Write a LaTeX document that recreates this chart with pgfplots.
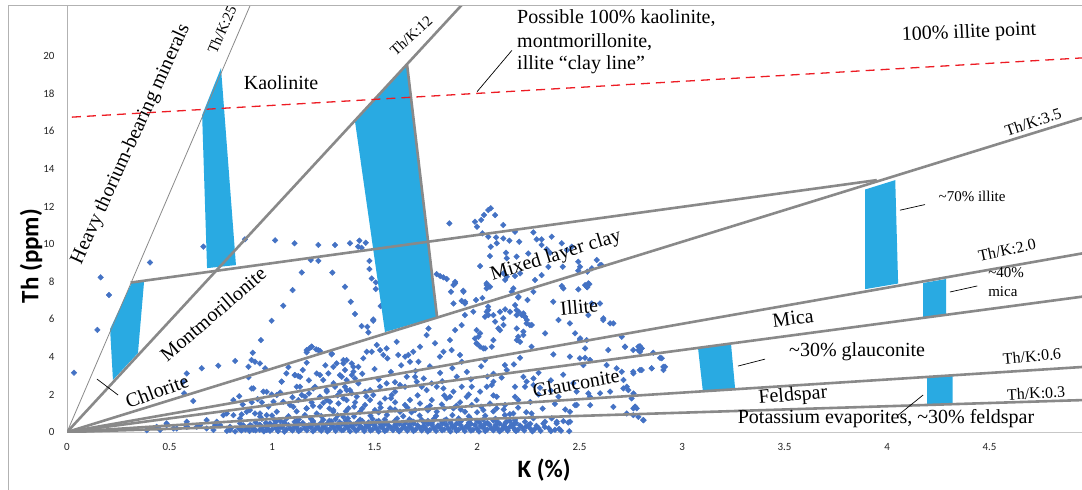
\documentclass[border=0pt]{standalone}
\usepackage{fontspec}
\setmainfont{Liberation Serif}
\newfontfamily\calib{Carlito}
\usepackage{pgfplots}
\pgfplotsset{compat=1.18}

\definecolor{ptblue}{RGB}{68,114,196}
\definecolor{zone}{RGB}{41,170,226}
\definecolor{fan}{RGB}{137,137,137}
\definecolor{clayred}{RGB}{237,28,36}

\newcommand\lab[1]{\fontsize{#1bp}{#1bp}\selectfont}

\begin{document}
\begin{tikzpicture}
\begin{axis}[
  width=1015bp, height=427bp, scale only axis,
  xmin=0, xmax=4.951, ymin=0, ymax=22.71,
  axis x line*=bottom, axis y line*=left,
  x axis line style={draw=black!22, line width=0.9bp, -},
  y axis line style={draw=black!30, line width=0.9bp, -},
  xtick={0,0.5,1,1.5,2,2.5,3,3.5,4,4.5},
  ytick={0,2,4,6,8,10,12,14,16,18,20},
  major tick length=0,
  tick label style={font=\calib\lab{11}, text=black!85},
  xticklabel style={yshift=-8bp},
  yticklabel style={xshift=-9bp},
  /pgf/number format/assume math mode=true,
  clip mode=individual,
]

% measured samples: K (%) vs Th (ppm)
\addplot[only marks, mark=square*, mark size=2.0bp,
  mark options={rotate=45, fill=ptblue, draw=ptblue}] coordinates {
(0.034,3.16)(0.148,5.43)(0.164,8.23)(0.205,7.29)(0.405,9.02)(0.665,9.86)(0.868,10.25)(1.015,10.20)
(1.110,10.04)(1.226,9.95)(1.307,9.95)(1.380,10.04)(1.420,9.86)(1.145,8.49)(1.294,8.48)(1.100,7.55)
(1.356,7.73)(1.055,6.72)(0.998,5.92)(1.384,6.93)(1.405,6.28)(0.946,4.89)
(1.426,10.18)(1.457,10.07)(1.437,9.80)(1.189,9.15)(1.226,9.11)(1.475,9.10)(1.475,8.67)(1.486,8.17)
(1.506,7.96)(1.506,7.61)(1.530,6.70)(1.494,5.99)
(1.865,11.10)(1.990,11.19)(2.000,10.92)(2.020,11.28)(2.034,11.54)(2.055,11.81)(2.067,11.90)(2.088,11.54)
(2.026,10.57)(2.055,10.39)(2.093,10.35)(2.067,9.86)(2.015,8.83)(2.063,9.36)(1.803,8.40)(1.820,8.30)
(1.836,8.23)(1.852,8.14)(1.893,7.99)(1.885,7.82)(1.873,7.46)(1.933,7.52)(1.885,6.84)(1.925,6.98)
(1.941,6.84)(1.995,7.02)(2.026,7.13)(2.047,7.82)(2.063,7.73)(2.047,7.64)(2.054,6.67)(2.055,6.49)
(2.080,6.22)(2.055,6.22)(1.982,6.40)(1.941,6.22)(2.096,10.04)
(2.128,11.01)(2.185,10.65)(2.275,10.62)(2.128,10.30)(2.158,10.18)(2.206,10.12)(2.291,10.25)(2.315,10.25)
(2.364,10.39)(2.413,10.04)(2.315,9.95)(2.340,9.72)(2.356,9.54)(2.438,9.68)(2.462,9.86)(2.141,9.54)
(2.145,9.24)(2.193,9.33)(2.250,9.50)(2.128,8.44)(2.145,8.26)(2.137,8.09)(2.185,8.30)(2.210,8.44)
(2.283,8.09)(2.315,8.35)(2.348,8.79)(2.418,8.79)(2.494,9.06)(2.502,8.79)(2.494,8.58)(2.538,8.53)
(2.560,8.71)(2.584,9.15)(2.600,8.88)(2.177,7.64)(2.169,7.46)(2.201,7.16)(2.246,7.02)(2.275,7.46)
(2.413,7.77)(2.421,7.64)(2.494,7.59)(2.527,7.82)(2.538,7.70)(2.548,7.87)(2.372,6.93)(2.137,6.53)
(2.161,6.40)(2.193,6.49)(2.193,6.22)(2.234,6.13)(2.226,6.31)(2.560,6.84)(2.600,6.84)(2.616,6.05)
(2.543,6.22)
(2.608,8.88)(2.543,7.91)(2.535,7.73)(2.665,5.78)(2.706,5.07)(2.503,4.98)(2.722,4.54)(2.795,4.57)
(2.803,4.45)(2.787,4.36)(2.860,4.22)(2.901,3.92)(2.917,3.47)(2.852,3.39)(2.803,3.30)(2.763,3.12)
(2.714,2.32)(2.763,2.05)(2.771,1.34)(2.763,1.26)(2.787,0.81)(2.812,0.63)(2.665,1.34)(2.730,0.99)
(2.552,1.43)(2.478,1.43)(2.454,0.55)(2.389,0.55)(2.324,0.46)
(1.893,7.91)(1.934,7.46)(1.942,6.93)(2.047,7.91)(2.047,6.40)(2.039,6.13)(2.007,5.07)(1.999,4.71)
(2.039,4.45)(2.080,4.89)(2.112,6.40)(2.129,5.69)(2.112,5.42)(2.202,7.20)(2.186,6.75)(2.202,6.40)
(2.218,6.22)(2.243,5.96)(2.267,5.69)(2.194,5.51)(2.194,4.89)(2.226,5.16)
(2.128,6.05)(2.234,6.13)(2.242,5.78)(2.258,5.69)(2.226,5.34)(2.201,5.07)(2.210,4.80)(2.266,4.54)
(2.332,5.25)(2.397,5.96)(2.453,5.78)(2.478,5.25)(2.502,4.89)(2.535,4.89)(2.527,4.45)(2.616,5.96)
(2.649,5.78)(2.640,4.36)(2.722,4.54)(2.762,4.36)(2.787,4.54)(2.803,4.45)(2.795,4.27)(2.372,4.13)
(2.453,4.01)(2.502,3.92)(2.527,3.95)(2.551,3.83)(2.519,3.56)(2.632,3.56)(2.681,3.39)(2.706,3.21)
(2.762,3.21)(2.795,3.30)(2.852,3.39)(2.893,3.95)(2.909,3.47)(2.909,3.30)(2.210,3.95)(2.136,3.56)
(2.145,3.30)(2.226,2.94)(2.242,2.68)(2.275,2.85)(2.185,2.41)(2.234,2.41)(2.275,2.50)(2.307,2.36)
(2.397,1.88)(2.486,2.15)(2.543,2.06)(2.551,1.88)(2.600,2.06)(2.649,2.15)(2.714,2.77)(2.730,2.41)
(2.738,2.23)(2.754,1.79)(2.771,1.35)(2.779,1.26)(2.762,0.90)(2.811,0.64)(2.486,1.44)(2.453,1.08)
(2.136,1.44)(2.185,1.88)(2.201,1.70)(2.177,0.99)(2.136,0.90)(2.145,0.55)(2.185,0.64)(2.234,0.55)
(2.266,0.99)(2.275,0.73)(2.332,0.55)(2.364,0.73)(2.388,0.46)(2.421,0.58)(2.445,0.51)(2.185,0.11)
(2.128,0.19)
(1.494,5.92)(1.437,5.64)(1.465,5.60)(1.470,5.30)(1.182,4.45)(1.194,4.54)(1.215,4.40)(1.234,4.31)
(1.169,4.24)(1.291,4.13)(1.169,3.69)(1.234,3.03)(1.112,3.03)(1.128,2.98)(1.218,3.12)
(1.348,3.65)(1.364,3.83)(1.389,3.65)(1.315,3.65)(1.356,3.30)(1.340,2.94)(1.389,3.03)(1.397,3.21)
(1.421,3.47)(1.445,3.92)(1.462,4.27)(1.486,4.27)(1.511,4.63)(1.527,4.36)(1.543,4.10)(1.559,4.45)
(1.563,3.92)(1.608,4.80)(1.616,4.10)(1.649,4.01)(1.665,4.10)(1.673,3.74)(1.689,4.27)(1.714,3.74)
(1.722,4.54)(1.754,5.16)(1.763,5.51)(1.795,4.72)(1.819,4.01)(1.836,4.27)(1.868,4.89)(1.876,4.36)
(1.917,4.10)(1.925,3.74)(1.893,5.42)(1.925,5.69)(1.998,5.42)(2.015,5.25)(1.990,4.98)(1.998,4.72)
(2.015,4.54)(2.031,4.45)(2.039,3.83)(2.072,4.54)(2.088,5.87)(2.104,5.51)
(1.047,2.68)(1.120,2.41)(1.145,1.97)(1.161,1.88)(1.210,2.41)(1.250,2.77)(1.267,2.15)(1.307,2.41)
(1.332,2.15)(1.356,2.41)(1.364,2.23)(1.389,2.06)(1.421,2.59)(1.454,2.15)(1.478,2.23)(1.494,1.97)
(1.527,2.41)(1.559,2.59)(1.584,1.97)(1.600,2.15)(1.624,2.50)(1.649,2.41)(1.657,2.94)(1.698,2.94)
(1.706,2.68)(1.730,2.41)(1.754,2.23)(1.779,2.59)(1.803,2.41)(1.836,2.32)(1.868,1.88)(1.885,2.15)
(1.901,2.94)(1.925,2.41)(1.950,1.88)(1.974,2.41)(2.015,2.15)(2.047,2.41)(2.080,2.68)(2.072,2.50)
(2.096,1.88)
(1.055,1.61)(1.088,1.44)(1.128,1.70)(1.169,1.26)(1.193,1.58)(1.234,1.35)(1.267,1.70)(1.299,1.17)
(1.324,1.52)(1.348,1.79)(1.372,1.26)(1.405,1.58)(1.429,1.08)(1.454,1.44)(1.478,1.70)(1.502,1.17)
(1.527,1.52)(1.551,1.79)(1.576,1.26)(1.600,1.58)(1.624,1.08)(1.649,1.44)(1.673,1.70)(1.698,1.17)
(1.722,1.52)(1.754,1.26)(1.779,1.70)(1.803,1.08)(1.828,1.47)(1.852,1.79)(1.885,1.26)(1.917,1.58)
(1.941,1.08)(1.974,1.44)(1.998,1.70)(2.031,1.17)(2.063,1.52)(2.096,1.26)
(0.901,2.32)(0.958,2.15)(0.999,2.00)(0.857,1.47)(0.901,1.58)(0.950,1.58)(0.982,1.35)(1.007,1.61)
(0.763,0.90)(0.812,0.90)(0.852,0.94)(0.877,1.08)(0.917,0.99)(0.942,0.82)(0.974,0.90)(1.023,1.08)
(0.486,0.46)(0.454,0.11)(0.535,0.19)(0.584,0.28)(0.633,0.28)(0.681,0.19)(0.714,0.11)(0.747,0.37)
(0.795,0.28)(0.844,0.46)(0.893,0.37)(0.942,0.37)(0.990,0.46)(1.031,0.28)(0.909,0.11)(0.974,0.11)
(0.852,0.11)(0.795,0.11)(0.722,0.37)
(0.906,4.22)(0.900,3.83)(0.820,3.78)(0.885,3.47)(0.917,3.74)(0.941,3.65)(0.738,3.53)(0.657,3.39)
(0.567,2.68)(0.571,2.06)(0.616,1.65)(0.584,3.12)(0.885,2.91)(0.909,2.32)(0.974,2.14)(1.023,1.97)
(1.070,3.12)(1.110,3.03)(1.137,2.94)(0.966,3.39)(1.047,2.68)
(1.193,4.54)(1.169,4.36)(1.226,4.36)(1.291,4.18)(1.299,3.47)(1.348,3.83)(1.397,3.47)(1.275,3.12)
(1.331,3.03)(1.364,2.76)(1.405,2.85)(1.136,2.41)(1.201,2.32)(1.266,2.23)(1.380,2.23)(1.234,1.88)
(1.283,1.61)(1.364,1.70)(1.413,1.88)(1.104,1.34)(1.169,1.26)(1.218,0.99)(1.299,1.08)(1.348,0.81)
(0.892,1.17)(0.941,0.99)(0.844,0.72)(0.779,0.99)(0.730,0.55)(0.649,0.37)(0.584,0.28)(0.486,0.37)
(0.437,0.28)(0.389,0.10)(0.519,0.19)(0.584,0.55)(0.681,0.63)(0.811,1.70)
(1.08,3.45)(1.15,3.30)(1.26,3.55)(1.44,3.10)(1.50,3.35)(1.58,3.20)(1.63,3.55)(1.70,3.25)
(1.77,3.50)(1.82,3.15)(1.88,3.40)(1.95,3.20)(2.02,3.50)(2.08,3.10)(2.12,2.90)(2.18,3.60)
(2.30,3.15)(2.36,2.75)(2.42,3.05)(2.47,2.60)(1.52,2.80)(1.60,2.65)(1.74,2.85)(1.83,2.70)
(1.97,2.80)(2.05,2.95)(1.30,2.60)(1.18,2.75)
(0.84,1.90)(0.93,1.75)(1.04,2.10)(1.10,1.85)(1.18,2.05)(1.25,1.55)(1.32,1.95)(1.40,1.35)
(1.46,1.90)(1.53,1.30)(1.58,1.80)(1.66,1.30)(1.71,1.95)(1.77,1.40)(1.84,1.95)(1.90,1.40)
(1.96,2.00)(2.02,1.35)(2.08,1.95)(2.13,1.20)(2.20,1.30)(2.26,1.60)(2.32,1.25)(2.38,1.50)
(2.43,1.20)(2.30,2.00)(2.36,2.20)(1.12,1.10)(1.20,1.40)(1.28,1.25)(1.36,1.10)(1.44,1.25)
(1.52,1.05)(1.60,1.20)(1.68,1.05)(1.76,1.15)(1.84,1.25)(1.92,1.20)(2.00,1.05)(2.08,1.10)
(2.16,0.95)(2.24,1.05)
(0.78,0.06)(0.82,0.03)(0.85,0.08)(0.89,0.05)(0.92,0.09)(0.96,0.04)(0.99,0.07)(1.03,0.05)
(1.06,0.02)(1.10,0.08)(1.13,0.05)(1.17,0.09)(1.20,0.04)(1.24,0.07)(1.27,0.03)(1.31,0.06)
(1.34,0.09)(1.38,0.04)(1.41,0.07)(1.45,0.05)(1.48,0.08)(1.52,0.03)(1.55,0.06)(1.59,0.09)
(1.62,0.04)(1.66,0.07)(1.69,0.05)(1.73,0.08)(1.76,0.03)(1.80,0.06)(1.83,0.09)(1.87,0.04)
(1.90,0.07)(1.94,0.05)(1.97,0.08)(2.01,0.03)(2.04,0.06)(2.08,0.09)(2.11,0.04)(2.15,0.07)
(2.19,0.05)(2.23,0.08)(2.27,0.04)(2.31,0.06)(2.36,0.05)(2.41,0.07)(2.45,0.04)
(0.87,0.13)(0.94,0.12)(1.00,0.14)(1.07,0.13)(1.14,0.12)(1.21,0.14)(1.28,0.13)(1.35,0.12)
(1.42,0.14)(1.49,0.13)(1.56,0.12)(1.63,0.14)(1.70,0.13)(1.77,0.12)(1.84,0.14)(1.91,0.13)
(1.98,0.12)(2.05,0.14)(2.12,0.13)(2.20,0.12)(2.28,0.14)(2.38,0.12)
(0.80,0.22)(0.84,0.18)(0.88,0.24)(0.91,0.19)(0.95,0.23)(0.98,0.17)(1.02,0.21)(1.05,0.25)
(1.09,0.18)(1.12,0.22)(1.16,0.20)(1.19,0.26)(1.23,0.17)(1.26,0.21)(1.30,0.24)(1.33,0.19)
(1.37,0.23)(1.40,0.18)(1.44,0.22)(1.47,0.26)(1.51,0.19)(1.54,0.21)(1.58,0.24)(1.61,0.18)
(1.65,0.22)(1.68,0.20)(1.72,0.25)(1.75,0.17)(1.79,0.21)(1.82,0.23)(1.86,0.19)(1.89,0.24)
(1.93,0.20)(1.96,0.22)(2.00,0.18)(2.03,0.25)(2.07,0.21)(2.10,0.19)(2.14,0.23)(2.18,0.20)
(2.22,0.24)(2.26,0.18)(2.30,0.22)(2.35,0.20)(2.40,0.17)
(0.90,0.28)(0.97,0.29)(1.04,0.27)(1.11,0.28)(1.18,0.29)(1.25,0.27)(1.32,0.28)(1.39,0.29)
(1.46,0.27)(1.53,0.28)(1.60,0.29)(1.67,0.27)(1.74,0.28)(1.81,0.29)(1.88,0.27)(1.95,0.28)
(2.02,0.29)(2.09,0.27)(2.16,0.28)(2.24,0.29)(2.33,0.27)
(0.86,0.36)(0.90,0.33)(0.94,0.39)(0.97,0.35)(1.01,0.38)(1.04,0.32)(1.08,0.37)(1.11,0.34)
(1.15,0.40)(1.18,0.36)(1.22,0.33)(1.25,0.38)(1.29,0.35)(1.32,0.39)(1.36,0.34)(1.39,0.37)
(1.43,0.32)(1.46,0.38)(1.50,0.35)(1.53,0.40)(1.57,0.33)(1.60,0.37)(1.64,0.34)(1.67,0.39)
(1.71,0.36)(1.74,0.33)(1.78,0.38)(1.81,0.35)(1.85,0.39)(1.88,0.34)(1.92,0.37)(1.95,0.33)
(1.99,0.38)(2.02,0.35)(2.06,0.40)(2.09,0.36)(2.13,0.33)(2.17,0.38)(2.21,0.35)(2.25,0.37)
(2.29,0.33)
(0.99,0.44)(1.06,0.45)(1.13,0.43)(1.20,0.44)(1.27,0.45)(1.34,0.43)(1.41,0.44)(1.48,0.45)
(1.55,0.43)(1.62,0.44)(1.69,0.45)(1.76,0.43)(1.83,0.44)(1.90,0.45)(1.97,0.43)(2.04,0.44)
(2.11,0.45)(2.18,0.43)(2.26,0.44)
(0.92,0.52)(0.97,0.49)(1.02,0.55)(1.06,0.51)(1.11,0.54)(1.15,0.48)(1.20,0.53)(1.24,0.50)
(1.29,0.56)(1.33,0.52)(1.38,0.49)(1.42,0.54)(1.47,0.51)(1.51,0.55)(1.56,0.48)(1.60,0.53)
(1.65,0.50)(1.69,0.55)(1.74,0.52)(1.78,0.49)(1.83,0.54)(1.87,0.51)(1.92,0.56)(1.96,0.50)
(2.01,0.53)(2.05,0.49)(2.10,0.54)(2.14,0.51)(2.19,0.48)
(1.04,0.60)(1.12,0.61)(1.20,0.59)(1.28,0.60)(1.36,0.61)(1.44,0.59)(1.52,0.60)(1.60,0.61)
(1.68,0.59)(1.76,0.60)(1.84,0.61)(1.92,0.59)(2.00,0.60)(2.08,0.61)(2.16,0.59)
(0.95,0.70)(1.01,0.66)(1.07,0.72)(1.13,0.67)(1.19,0.71)(1.25,0.65)(1.31,0.69)(1.37,0.73)
(1.43,0.66)(1.49,0.70)(1.55,0.67)(1.61,0.72)(1.67,0.68)(1.73,0.65)(1.79,0.71)(1.85,0.67)
(1.91,0.73)(1.97,0.69)(2.03,0.66)(2.09,0.71)
(1.00,0.88)(1.08,0.84)(1.16,0.90)(1.24,0.85)(1.32,0.89)(1.40,0.83)(1.48,0.87)(1.56,0.91)
(1.64,0.84)(1.72,0.88)(1.80,0.86)(1.88,0.90)(1.96,0.84)(2.04,0.87)
};

% shaded composition windows
\addplot[fill=zone, draw=none] coordinates {(0.317,7.98)(0.376,8.03)(0.346,4.20)(0.224,2.77)(0.210,5.48)(0.317,7.98)};
\addplot[fill=zone, draw=none] coordinates {(0.751,19.36)(0.659,16.86)(0.683,8.72)(0.824,8.88)(0.751,19.36)};
\addplot[fill=zone, draw=none] coordinates {(1.659,19.52)(1.405,16.50)(1.551,5.32)(1.805,6.12)(1.659,19.52)};
\addplot[fill=zone, draw=none] coordinates {(3.893,12.90)(4.040,13.40)(4.054,7.90)(3.893,7.60)(3.893,12.90)};
\addplot[fill=zone, draw=none] coordinates {(4.176,7.93)(4.288,8.14)(4.288,6.28)(4.176,6.06)(4.176,7.93)};
\addplot[fill=zone, draw=none] coordinates {(3.078,4.47)(3.239,4.68)(3.259,2.29)(3.102,2.13)(3.078,4.47)};
\addplot[fill=zone, draw=none] coordinates {(4.195,2.93)(4.320,3.03)(4.320,1.54)(4.195,1.44)(4.195,2.93)};

% Th/K ratio fan
\addplot[fan, line width=0.8bp] coordinates {(0,0)(0.894,22.71)};
\addplot[fan, line width=2.6bp] coordinates {(0,0)(1.925,22.71)};
\addplot[fan, line width=2.6bp] coordinates {(0,0)(4.951,16.70)};
\addplot[fan, line width=2.6bp] coordinates {(0,0)(4.951,9.50)};
\addplot[fan, line width=2.6bp] coordinates {(0,0)(4.951,7.20)};
\addplot[fan, line width=2.6bp] coordinates {(0,0)(4.951,3.46)};
\addplot[fan, line width=2.6bp] coordinates {(0,0)(4.951,1.70)};
\addplot[fan, line width=2.6bp] coordinates {(0.31,7.95)(3.95,13.40)};
\addplot[fan, line width=2.6bp] coordinates {(1.659,19.52)(1.805,6.12)};

% clay line
\addplot[clayred, line width=1.3bp, dash pattern=on 9bp off 6bp] coordinates {(0.024,16.75)(4.951,19.90)};

% leader lines
\addplot[black, line width=0.7bp] coordinates {(0.146,2.82)(0.249,1.97)};
\addplot[black, line width=0.7bp] coordinates {(2.000,18.10)(2.170,20.30)};
\addplot[black, line width=0.7bp] coordinates {(4.063,11.80)(4.185,12.10)};
\addplot[black, line width=0.7bp] coordinates {(4.307,7.45)(4.440,7.77)};
\addplot[black, line width=0.7bp] coordinates {(3.273,3.51)(3.405,3.88)};
\addplot[black, line width=0.7bp] coordinates {(4.054,0.90)(4.176,1.97)};

% annotations
\begin{scope}[every node/.style={inner sep=0pt, text=black}]
\node[font=\lab{20}, rotate=65.5] at (axis cs:0.312,15.3) {Heavy thorium-bearing minerals};
\node[font=\lab{15}, rotate=66] at (axis cs:0.756,21.4) {Th/K:25};
\node[font=\lab{20}] at (axis cs:1.044,18.56) {Kaolinite};
\node[font=\lab{15}, rotate=42] at (axis cs:1.678,21.06) {Th/K:12};
\node[font=\lab{20}, anchor=west] at (axis cs:2.195,22.02) {Possible 100\% kaolinite,};
\node[font=\lab{20}, anchor=west] at (axis cs:2.195,20.74) {montmorillonite,};
\node[font=\lab{20}, anchor=west] at (axis cs:2.195,19.52) {illite “clay line”};
\node[font=\lab{20}, rotate=2.5] at (axis cs:4.40,21.22) {100\% illite point};
\node[font=\lab{16}, rotate=18] at (axis cs:4.712,16.49) {Th/K:3.5};
\node[font=\lab{15}] at (axis cs:4.415,12.55) {\textasciitilde70\% illite};
\node[font=\lab{16}, rotate=12] at (axis cs:4.585,9.68) {Th/K:2.0};
\node[font=\lab{15}, anchor=west] at (axis cs:4.493,8.46) {\textasciitilde40\%};
\node[font=\lab{15}, anchor=west] at (axis cs:4.493,7.45) {mica};
\node[font=\lab{20}, rotate=7] at (axis cs:3.541,6.06) {Mica};
\node[font=\lab{20}] at (axis cs:3.854,4.26) {\textasciitilde30\% glauconite};
\node[font=\lab{16}, rotate=5] at (axis cs:4.707,4.04) {Th/K:0.6};
\node[font=\lab{20}, rotate=5] at (axis cs:3.541,1.91) {Feldspar};
\node[font=\lab{16}, rotate=3] at (axis cs:4.727,2.07) {Th/K:0.3};
\node[font=\lab{20}] at (axis cs:3.995,0.74) {Potassium evaporites, \textasciitilde30\% feldspar};
\node[font=\lab{20}, rotate=10] at (axis cs:2.483,2.6) {Glauconite};
\node[font=\lab{20}, rotate=5] at (axis cs:2.498,6.65) {Illite};
\node[font=\lab{20}, rotate=17] at (axis cs:2.385,9.36) {Mixed layer clay};
\node[font=\lab{20}, rotate=40.7] at (axis cs:0.712,6.28) {Montmorillonite};
\node[font=\lab{20}, rotate=20.5] at (axis cs:0.439,2.18) {Chlorite};
\node[font=\calib\bfseries\lab{25}, rotate=90] at (axis cs:-0.176,9.36) {Th (ppm)};
\node[font=\calib\bfseries\lab{25}] at (axis cs:2.327,-2.02) {K (\%)};
\end{scope}

% chart frame
\draw[black!30, line width=0.9bp] (axis cs:-0.288,-3.2) -- (axis cs:-0.288,22.71) -- (axis cs:5.0,22.71);
\coordinate (sw) at (axis cs:-0.327,-3.03);
\coordinate (ne) at (axis cs:4.951,22.98);
\end{axis}
\pgfresetboundingbox
\useasboundingbox (sw) rectangle (ne);
\end{tikzpicture}
\end{document}
